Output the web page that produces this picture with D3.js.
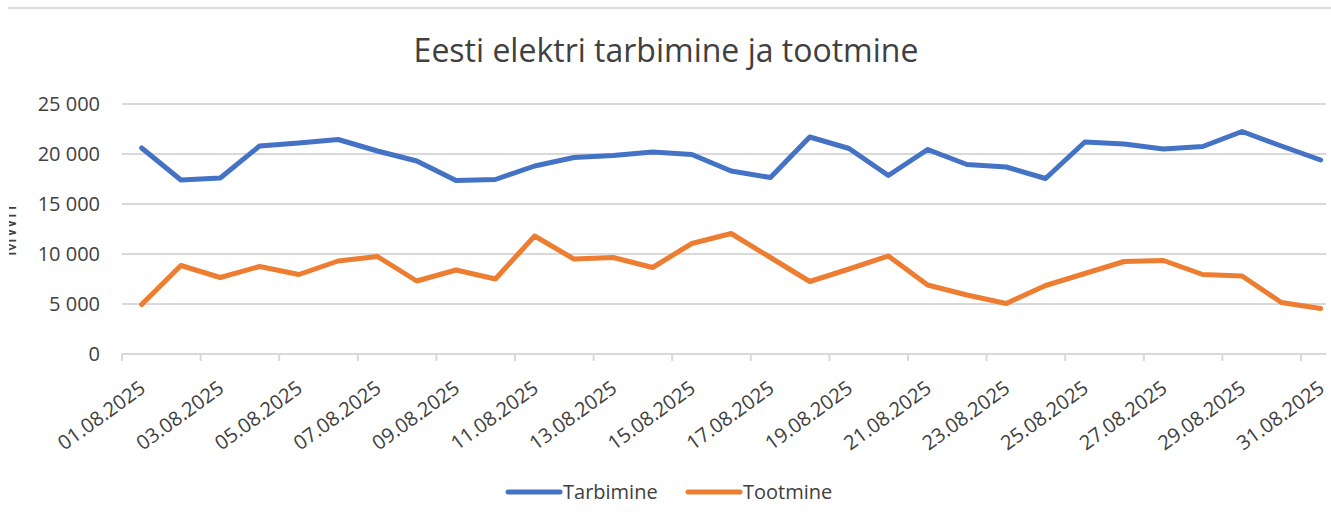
<!DOCTYPE html>
<html>
<head>
<meta charset="utf-8">
<script src="https://cdn.jsdelivr.net/npm/d3@7"></script>
<style>
  body { margin: 0; background: #fff; }
  svg text { font-family: "Open Sans", sans-serif; fill: #404040; }
</style>
</head>
<body>
<div id="chart"></div>
<script>
// data (MWh per day, August 2025)
var dates = [];
for (var d = 1; d <= 31; d++) dates.push((d < 10 ? "0" + d : "" + d) + ".08.2025");

var tarbimine = [20600, 17400, 17600, 20800, 21100, 21450, 20300, 19300, 17350, 17450,
                 18800, 19650, 19850, 20200, 19950, 18300, 17650, 21700, 20550, 17850,
                 20450, 18950, 18700, 17550, 21200, 21000, 20500, 20750, 22250, 20800, 19400];
var tootmine = [4950, 8850, 7650, 8750, 7950, 9300, 9750, 7300, 8400, 7500,
                11800, 9500, 9650, 8650, 11050, 12050, 9650, 7250, 8500, 9800,
                6900, 5900, 5050, 6850, 8050, 9250, 9350, 7950, 7800, 5150, 4550];
var yTicks = [0, 5000, 10000, 15000, 20000, 25000];

var series = [
  {name: "Tarbimine", values: tarbimine, color: "#4472C4"},
  {name: "Tootmine", values: tootmine, color: "#ED7D31"}
];

var W = 1331, H = 524;
var margin = {top: 104, left: 122, clipRight: 1326};
var plotH = 250, step = 39.3;

var svg = d3.select("#chart").append("svg")
    .attr("width", W).attr("height", H);

// thin frame line at the top of the screenshot
svg.append("line")
    .attr("x1", 8).attr("x2", W).attr("y1", 8).attr("y2", 8)
    .attr("stroke", "#dcdcdc").attr("stroke-width", 2);

var x = d3.scaleBand().domain(dates).range([margin.left, margin.left + step * dates.length]);
var y = d3.scaleLinear().domain([0, 25000]).range([margin.top + plotH, margin.top]);

var fmt = function(v) { return d3.format(",")(v).replace(/,/g, " "); };

// gridlines
svg.append("g").selectAll("line")
  .data(yTicks.slice(1))
  .enter().append("line")
    .attr("x1", margin.left).attr("x2", margin.clipRight)
    .attr("y1", function(d) { return y(d); })
    .attr("y2", function(d) { return y(d); })
    .attr("stroke", "#d9d9d9").attr("stroke-width", 2);

// y axis labels
var yAxis = d3.axisLeft(y).tickValues(yTicks).tickFormat(fmt).tickSize(0).tickPadding(22);
var gy = svg.append("g").attr("transform", "translate(" + margin.left + ",0)").call(yAxis);
gy.select(".domain").remove();
gy.selectAll("text").style("font-size", "20px").attr("fill", "#404040");

// y axis title, cut off at the left edge like in the original
svg.append("clipPath").attr("id", "cutTitle")
  .append("rect").attr("x", 9).attr("y", 0).attr("width", 40).attr("height", H);
svg.append("g")
    .attr("clip-path", "url(#cutTitle)")
  .append("text")
    .attr("transform", "translate(16,231) rotate(-90)")
    .attr("text-anchor", "middle")
    .style("font-size", "21px")
    .attr("fill", "#333")
    .text("MWh");

// x axis line and tick marks between every second day
svg.append("line")
    .attr("x1", margin.left).attr("x2", margin.clipRight)
    .attr("y1", y(0)).attr("y2", y(0))
    .attr("stroke", "#d9d9d9").attr("stroke-width", 2);

var everyOther = dates.filter(function(d, i) { return i % 2 === 0; });

svg.append("g").selectAll("line")
  .data(everyOther)
  .enter().append("line")
    .attr("x1", function(d) { return x(d); })
    .attr("x2", function(d) { return x(d); })
    .attr("y1", y(0)).attr("y2", y(0) + 7)
    .attr("stroke", "#d9d9d9").attr("stroke-width", 2);

var xAxis = d3.axisBottom(x).tickValues(everyOther).tickSize(0);
var gx = svg.append("g").attr("transform", "translate(0," + y(0) + ")").call(xAxis);
gx.select(".domain").remove();
gx.selectAll("text")
    .style("font-size", "20px")
    .attr("fill", "#333")
    .attr("text-anchor", "end")
    .attr("dy", null).attr("y", 0)
    .attr("transform", "translate(5,37) rotate(-36)");

// lines
var line = d3.line()
    .x(function(d, i) { return x(dates[i]) + x.bandwidth() / 2; })
    .y(function(d) { return y(d); });

svg.append("g").selectAll("path")
  .data(series)
  .enter().append("path")
    .attr("d", function(s) { return line(s.values); })
    .attr("fill", "none")
    .attr("stroke", function(s) { return s.color; })
    .attr("stroke-width", 5)
    .attr("stroke-linejoin", "round")
    .attr("stroke-linecap", "round");

// title
svg.append("text")
    .attr("x", 666).attr("y", 62)
    .attr("text-anchor", "middle")
    .style("font-size", "32px")
    .attr("fill", "#222")
    .text("Eesti elektri tarbimine ja tootmine");

// legend
var legend = svg.append("g").selectAll("g")
  .data(series)
  .enter().append("g")
    .attr("transform", function(s, i) { return "translate(" + (508 + i * 180) + ",492)"; });
legend.append("line")
    .attr("x1", 0).attr("x2", 52)
    .attr("stroke", function(s) { return s.color; })
    .attr("stroke-width", 5).attr("stroke-linecap", "round");
legend.append("text")
    .attr("x", 55).attr("dy", "0.35em")
    .style("font-size", "20px")
    .attr("fill", "#262626")
    .text(function(s) { return s.name; });
</script>
</body>
</html>
